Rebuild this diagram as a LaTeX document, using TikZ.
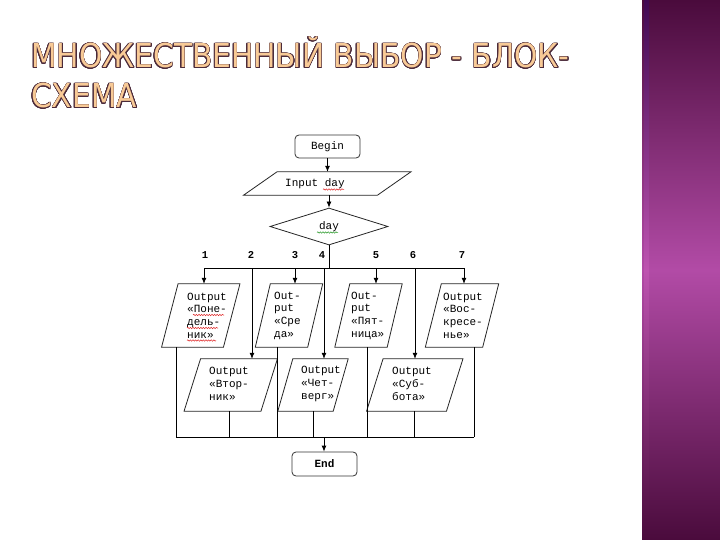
\documentclass[tikz,border=0pt]{standalone}
\usepackage{fontspec}
\usepackage[copies]{contour}
\usetikzlibrary{shapes.geometric,arrows.meta,decorations.pathmorphing}
\newfontfamily\monof{Liberation Mono}
\newfontfamily\titlef{DejaVu Sans}
\definecolor{bandDark}{HTML}{4A0B3C}
\definecolor{bandMid}{HTML}{B24BA6}
\definecolor{stripeMid}{HTML}{C65AB8}
\definecolor{titleFill}{HTML}{F8CA96}
\definecolor{titleLine}{HTML}{4B2A3A}
\definecolor{squigRed}{HTML}{E02828}
\definecolor{squigGreen}{HTML}{2A9A2A}
\contourlength{0.7pt}
\contournumber{20}
\tikzset{
  line/.style={draw=black, line width=0.8pt},
  arr/.style={draw=black, line width=0.8pt, -{Latex[length=6pt,width=5pt]}},
  pline/.style={draw=black!85, line width=0.8pt},
  pshape/.style={rectangle, inner sep=0pt, draw=none},
  ptext/.style={inner sep=0pt, align=left, font=\monof\fontsize{11}{12.7}\selectfont},
  term/.style={rectangle, rounded corners=4pt, draw=black!80, line width=0.8pt,
     minimum width=65, minimum height=23, inner sep=0pt},
  decision/.style={diamond, draw=black!85, line width=0.8pt, minimum width=118,
     minimum height=37, inner sep=0pt, font=\monof\fontsize{11}{12}\selectfont},
  num/.style={inner sep=0pt, font=\monof\bfseries\fontsize{10.5}{11}\selectfont},
  squig/.style={decorate, decoration={snake, amplitude=0.7pt, segment length=2.6pt},
     line width=0.5pt}
}
\begin{document}
\begin{tikzpicture}[x=1pt,y=-1pt]
\useasboundingbox (0,0) rectangle (720,540);
\fill[white] (0,0) rectangle (720,540);
% purple band
\shade[top color=bandDark, bottom color=bandDark, middle color=bandMid] (642,0) rectangle (720,540);
\shade[top color=bandDark!80!blue, bottom color=bandDark, middle color=stripeMid, opacity=0.6] (644,0) rectangle (649,540);
% title
\node[anchor=base west, inner sep=0pt, font=\titlef\fontsize{33}{33}\selectfont, text=titleFill] (title1) at (31,68)
  {\scalebox{0.9}[1]{\contour{titleLine}{МНОЖЕСТВЕННЫЙ ВЫБОР - БЛОК-}}};
\node[anchor=base west, inner sep=0pt, font=\titlef\fontsize{33}{33}\selectfont, text=titleFill] (title2) at (31,108)
  {\scalebox{0.9}[1]{\contour{titleLine}{СХЕМА}}};
% begin, input, decision
\node[term, font=\monof\fontsize{11}{12}\selectfont] (begin) at (327.5,146.5) {Begin};
\node[pshape, minimum width=133.5, minimum height=23] (inp) at (327.25,183.5) {};
\draw[pline] ([xshift=16.75]inp.north west) -- ([xshift=16.75]inp.north east)
   -- ([xshift=-16.75]inp.south east) -- ([xshift=-16.75]inp.south west) -- cycle;
\node[ptext, anchor=west] (inpt) at (285,183.5) {Input day};
\node[decision] (dec) at (329,226.5) {day};
\draw[arr] (begin.south) -- (begin.south |- inp.north);
\draw[arr] (inp.south -| dec.north) -- (dec.north);
% numbers
\node[num] (n1) at (205,255) {1};
\node[num] (n2) at (251,255) {2};
\node[num] (n3) at (295,255) {3};
\node[num] (n4) at (322,255) {4};
\node[num] (n5) at (376,255) {5};
\node[num] (n6) at (413,255) {6};
\node[num] (n7) at (462,255) {7};
% boxes row 1
\node[pshape, minimum width=61.5, minimum height=63] (b1) at (200.75,315.5) {};
\draw[pline] ([xshift=8.25]b1.north west) -- ([xshift=8.25]b1.north east) -- ([xshift=-8.25]b1.south east) -- ([xshift=-8.25]b1.south west) -- cycle;
\node[ptext, anchor=west] (b1t) at (187,315.5) {Output\\«Поне-\\дель-\\ник»};
\node[pshape, minimum width=52, minimum height=63] (b3) at (289,315.5) {};
\draw[pline] ([xshift=7.5]b3.north west) -- ([xshift=7.5]b3.north east) -- ([xshift=-7.5]b3.south east) -- ([xshift=-7.5]b3.south west) -- cycle;
\node[ptext, anchor=west] (b3t) at (274,315.5) {Out-\\put\\«Сре\\да»};
\node[pshape, minimum width=52, minimum height=63] (b5) at (368.5,315.5) {};
\draw[pline] ([xshift=7.5]b5.north west) -- ([xshift=7.5]b5.north east) -- ([xshift=-7.5]b5.south east) -- ([xshift=-7.5]b5.south west) -- cycle;
\node[ptext, anchor=west] (b5t) at (351,315.5) {Out-\\put\\«Пят-\\ница»};
\node[pshape, minimum width=57, minimum height=63] (b7) at (462,315.5) {};
\draw[pline] ([xshift=8]b7.north west) -- ([xshift=8]b7.north east) -- ([xshift=-8]b7.south east) -- ([xshift=-8]b7.south west) -- cycle;
\node[ptext, anchor=west] (b7t) at (443,315.5) {Output\\«Вос-\\кресе-\\нье»};
% boxes row 2
\node[pshape, minimum width=76.5, minimum height=52] (b2) at (230.75,385) {};
\draw[pline] ([xshift=8.25]b2.north west) -- ([xshift=8.25]b2.north east) -- ([xshift=-8.25]b2.south east) -- ([xshift=-8.25]b2.south west) -- cycle;
\node[ptext, anchor=west] (b2t) at (209,384) {Output\\«Втор-\\ник»};
\node[pshape, minimum width=55, minimum height=52] (b4) at (313,385) {};
\draw[pline] ([xshift=7.5]b4.north west) -- ([xshift=7.5]b4.north east) -- ([xshift=-7.5]b4.south east) -- ([xshift=-7.5]b4.south west) -- cycle;
\node[ptext, anchor=west] (b4t) at (301,384) {Output\\«Чет-\\верг»};
\node[pshape, minimum width=79.5, minimum height=52] (b6) at (414.75,385) {};
\draw[pline] ([xshift=8.25]b6.north west) -- ([xshift=8.25]b6.north east) -- ([xshift=-8.25]b6.south east) -- ([xshift=-8.25]b6.south west) -- cycle;
\node[ptext, anchor=west] (b6t) at (392,384) {Output\\«Суб-\\бота»};
% end
\node[term, minimum height=24, font=\monof\bfseries\fontsize{11}{12}\selectfont] (end) at (324.5,464) {End};
% top bus
\coordinate (c1) at (204,268);
\coordinate (c2) at (252,268);
\coordinate (c3) at (295,268);
\coordinate (c4) at (324,268);
\coordinate (c5) at (376,268);
\coordinate (c6) at (415,268);
\coordinate (c7) at (464,268);
\draw[line] (dec.south) -- (dec.south |- c1);
\draw[line] (c1) -- (c7);
\draw[arr] (c1) -- (c1 |- b1.north);
\draw[arr] (c3) -- (c3 |- b3.north);
\draw[arr] (c5) -- (c5 |- b5.north);
\draw[arr] (c7) -- (c7 |- b7.north);
\draw[arr] (c2) -- (c2 |- b2.north);
\draw[arr] (c4) -- (c4 |- b4.north);
\draw[arr] (c6) -- (c6 |- b6.north);
% bottom bus
\coordinate (e1) at (176,437);
\coordinate (e2) at (229,437);
\coordinate (e3) at (277,437);
\coordinate (e4) at (313,437);
\coordinate (e5) at (367,437);
\coordinate (e6) at (414,437);
\coordinate (e7) at (474,437);
\coordinate (eb) at (324,437);
\draw[line] (e1 |- b1.south) -- (e1);
\draw[line] (e3 |- b3.south) -- (e3);
\draw[line] (e5 |- b5.south) -- (e5);
\draw[line] (e7 |- b7.south) -- (e7);
\draw[line] (e2 |- b2.south) -- (e2);
\draw[line] (e4 |- b4.south) -- (e4);
\draw[line] (e6 |- b6.south) -- (e6);
\draw[line] (e1) -- (e7);
\draw[arr] (eb) -- (eb |- end.north);
% spell-check squiggles
\draw[squig, squigRed] (323,189.5) -- (344,189.5);
\draw[squig, squigGreen] (317,232.5) -- (338,232.5);
\draw[squig, squigRed] (193,315) -- (224,315);
\draw[squig, squigRed] (187,328) -- (218,328);
\draw[squig, squigRed] (187,340.5) -- (216,340.5);
\end{tikzpicture}
\end{document}
